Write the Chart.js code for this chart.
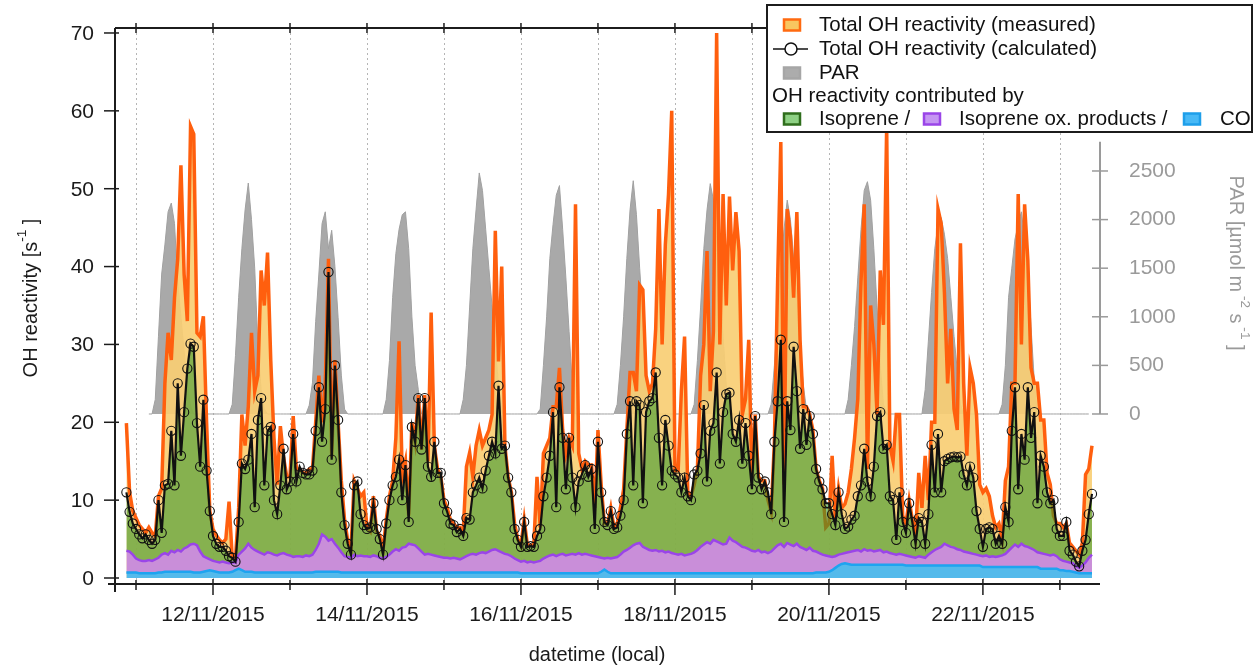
<!DOCTYPE html>
<html>
<head>
<meta charset="utf-8">
<title>OH reactivity</title>
<script src="https://cdn.jsdelivr.net/npm/chart.js@4.4.1/dist/chart.umd.min.js"></script>
<style>
  html, body { margin: 0; padding: 0; background: #ffffff; }
  #wrap { width: 1257px; height: 668px; position: relative; }
  canvas { display: block; }
</style>
</head>
<body>
<div id="wrap"><canvas id="chart" width="1257" height="668"></canvas></div>
<script>
// Hourly series, first value at 10/11/2015 21:00 (hours counted from 11/11/2015 00:00)
const firstHour = -3;

// Total OH reactivity, measured [s-1]
const measured = [
  19.9, 11.0, 8.6,
  7.7, 6.8, 6.3, 5.8, 6.5, 5.8, 5.4, 10.5, 11.5, 25.0, 31.5, 28.0, 36.0, 41.0, 53.0, 39.0, 33.0, 58.0, 57.0, 31.5, 31.0, 33.6, 20.0, 8.6,
  6.3, 5.5, 4.9, 4.5, 5.0, 9.8, 2.6, 2.5, 9.0, 21.0, 17.0, 22.0, 31.5, 24.0, 26.0, 39.5, 35.0, 41.8, 28.0, 18.0, 12.0, 19.5, 15.5, 13.0,
  13.0, 20.8, 14.0, 14.0, 13.5, 13.5, 14.0, 14.0, 20.0, 26.0, 20.0, 25.0, 41.0, 15.5, 28.0, 20.0, 12.5, 7.5, 4.8, 3.5, 12.5, 11.5, 10.5, 11.0,
  6.5, 6.0, 10.5, 6.0, 5.5, 3.5, 7.5, 10.5, 12.5, 18.0, 30.4, 13.0, 15.0, 8.0, 20.0, 17.5, 23.5, 16.5, 23.5, 15.0, 34.1, 17.0, 14.0, 13.0,
  10.0, 9.0, 7.5, 7.0, 6.5, 6.5, 6.0, 14.3, 16.1, 13.0, 17.0, 19.0, 17.0, 18.0, 19.0, 21.0, 44.6, 27.8, 40.0, 17.0, 13.0, 11.0, 7.0, 5.0,
  4.2, 7.5, 4.2, 4.2, 4.2, 13.0, 6.5, 16.0, 17.0, 18.0, 22.0, 22.0, 27.0, 19.0, 16.0, 18.0, 17.0, 48.0, 16.0, 14.0, 15.0, 14.5, 14.5, 9.0,
  19.0, 12.0, 7.0, 7.0, 9.0, 6.5, 7.0, 9.0, 11.4, 19.0, 26.4, 26.4, 24.0, 37.6, 37.0, 26.0, 24.0, 25.0, 32.0, 47.4, 30.0, 42.8, 49.3, 60.0,
  13.8, 13.8, 24.0, 31.0, 11.0, 10.5, 12.0, 14.0, 26.0, 30.0, 42.0, 24.0, 31.7, 70.0, 30.0, 49.3, 35.0, 49.0, 39.5, 47.0, 42.0, 21.0, 23.0, 30.6,
  13.0, 21.0, 13.0, 12.5, 12.5, 10.0, 8.5, 17.5, 38.0, 56.0, 12.0, 47.4, 44.0, 36.0, 47.0, 30.6, 22.0, 22.0, 21.0, 19.0, 14.0, 12.5, 11.5, 6.5,
  7.0, 15.7, 7.5, 11.5, 9.0, 9.5, 11.0, 14.0, 18.0, 23.0, 38.0, 48.0, 14.0, 35.0, 30.0, 21.0, 39.5, 32.5, 58.0, 17.0, 15.0, 21.0, 21.0, 8.0,
  7.0, 10.0, 7.5, 5.5, 13.5, 9.0, 15.7, 10.0, 20.0, 20.0, 47.4, 45.5, 36.7, 25.0, 32.0, 21.7, 19.0, 43.0, 25.0, 15.7, 27.0, 25.0, 21.0, 12.0,
  11.0, 11.5, 10.5, 8.0, 6.5, 7.0, 5.0, 12.5, 14.3, 25.0, 25.0, 49.3, 30.0, 48.0, 40.9, 27.0, 25.0, 25.0, 20.3, 20.3, 13.5, 12.0, 8.0, 7.0,
  7.0, 6.5, 7.0, 4.5, 4.0, 3.5, 3.0, 4.5, 13.3, 14.0, 17.0
];

// Total OH reactivity, calculated [s-1]
const calculated = [
  11.0, 8.5, 7.0,
  6.3, 5.6, 5.1, 5.6, 4.9, 4.4, 4.9, 10.0, 5.8, 11.9, 12.1, 18.9, 11.9, 25.0, 15.7, 21.3, 26.9, 30.1, 29.7, 19.9, 14.3, 22.9, 13.8, 8.6,
  5.4, 4.4, 4.0, 4.0, 3.5, 2.8, 2.6, 2.1, 7.2, 14.7, 14.0, 15.2, 18.5, 9.1, 20.3, 23.1, 11.9, 18.9, 19.4, 10.0, 8.2, 11.9, 16.6, 11.4,
  12.4, 18.5, 12.4, 14.3, 13.5, 13.3, 13.3, 13.8, 18.9, 24.5, 17.5, 21.7, 39.3, 15.2, 27.3, 20.3, 11.0, 6.8, 4.4, 3.0, 11.9, 12.4, 8.2, 6.8,
  6.3, 6.5, 9.6, 6.3, 5.0, 3.0, 7.0, 10.0, 11.9, 13.0, 15.2, 10.0, 14.5, 7.2, 19.4, 17.5, 23.1, 16.5, 23.1, 14.3, 13.0, 17.5, 13.5, 13.5,
  9.6, 8.5, 7.0, 6.8, 5.9, 6.3, 5.4, 7.7, 7.5, 11.0, 11.9, 12.9, 11.5, 13.8, 15.7, 17.5, 16.0, 24.7, 16.6, 17.0, 12.9, 11.0, 6.3, 4.9,
  4.0, 7.2, 4.0, 4.1, 4.0, 5.4, 6.3, 10.5, 12.9, 15.7, 21.3, 9.1, 24.5, 18.0, 11.4, 18.0, 12.9, 9.1, 12.4, 13.3, 14.5, 13.0, 14.0, 6.3,
  17.5, 11.0, 7.2, 6.8, 8.6, 6.3, 6.5, 8.0, 10.0, 18.5, 22.7, 11.9, 22.7, 22.2, 9.6, 21.3, 22.7, 23.1, 26.4, 18.0, 11.9, 20.3, 17.0, 13.8,
  13.3, 12.9, 11.0, 12.9, 10.5, 10.0, 13.3, 13.8, 16.0, 22.2, 12.4, 18.9, 19.9, 26.4, 14.7, 21.3, 23.6, 23.8, 18.5, 17.5, 20.3, 14.7, 19.9, 15.7,
  11.4, 20.8, 12.9, 11.4, 12.4, 11.0, 8.2, 17.5, 22.7, 30.6, 7.2, 22.7, 19.0, 29.7, 24.0, 16.6, 21.7, 17.1, 20.8, 18.5, 14.0, 12.4, 11.4, 9.6,
  9.6, 8.2, 6.8, 11.0, 8.2, 6.3, 6.6, 7.5, 8.0, 10.5, 11.9, 16.6, 12.4, 10.5, 14.3, 20.8, 21.3, 16.6, 17.1, 10.5, 10.0, 4.9, 11.0, 7.2,
  5.8, 9.6, 7.2, 4.4, 7.7, 7.2, 4.4, 8.2, 17.1, 11.0, 18.5, 11.0, 15.0, 15.3, 15.5, 15.6, 15.5, 15.6, 13.3, 11.9, 14.3, 12.9, 8.6, 6.3,
  4.0, 6.3, 6.5, 6.3, 4.4, 5.4, 4.4, 9.1, 7.2, 18.9, 24.5, 11.4, 18.5, 15.2, 24.5, 18.0, 21.3, 9.6, 15.7, 14.3, 11.0, 9.6, 10.0, 6.3,
  5.4, 5.4, 7.2, 3.5, 3.0, 2.1, 1.5, 3.5, 4.9, 8.2, 10.8
];

// Contribution of isoprene [s-1]
const isoprene = [
  7.5, 5.1, 4.0,
  3.8, 3.3, 2.9, 3.4, 2.6, 2.2, 2.5, 7.4, 2.8, 8.7, 9.1, 15.4, 8.6, 21.4, 12.3, 17.5, 22.9, 25.8, 25.3, 15.7, 10.9, 20.1, 11.2, 6.2,
  3.2, 2.3, 2.0, 1.9, 1.5, 0.9, 0.6, 0.1, 4.2, 11.3, 10.2, 10.8, 14.6, 5.5, 16.9, 19.9, 8.9, 15.6, 16.2, 7.0, 5.3, 8.8, 13.4, 8.4,
  9.5, 15.8, 9.6, 11.5, 10.8, 10.4, 10.5, 10.8, 15.3, 20.1, 11.9, 16.4, 34.5, 10.2, 22.9, 16.4, 7.7, 4.0, 1.7, 0.4, 8.9, 9.6, 5.3, 4.0,
  3.5, 3.8, 6.7, 3.5, 2.4, 0.5, 4.3, 7.0, 8.5, 9.3, 11.7, 6.1, 10.5, 2.8, 15.1, 13.3, 19.3, 13.1, 20.1, 11.2, 10.0, 14.6, 10.7, 10.8,
  7.0, 5.9, 4.5, 4.2, 3.4, 3.9, 2.8, 4.9, 4.5, 7.9, 8.9, 9.7, 8.2, 10.6, 12.3, 13.9, 12.3, 21.2, 13.3, 13.9, 9.9, 8.2, 3.8, 2.6,
  1.9, 5.0, 2.0, 2.0, 2.0, 3.3, 4.1, 8.0, 10.2, 12.8, 18.3, 6.3, 21.5, 14.9, 8.5, 15.0, 9.8, 6.1, 9.2, 10.3, 11.4, 10.0, 11.1, 3.5,
  14.8, 8.4, 4.7, 4.2, 6.1, 3.7, 3.8, 5.0, 6.6, 14.9, 18.8, 7.7, 18.3, 17.7, 5.6, 17.5, 19.1, 19.6, 22.8, 14.6, 8.4, 17.0, 13.6, 10.6,
  10.2, 9.9, 7.9, 10.0, 7.5, 6.9, 10.0, 10.2, 12.0, 17.9, 7.8, 14.5, 15.0, 21.7, 10.2, 17.0, 19.2, 18.6, 13.7, 12.9, 16.0, 10.7, 16.0, 12.0,
  7.9, 17.4, 9.3, 8.1, 9.0, 7.8, 4.8, 13.7, 18.5, 26.2, 3.2, 18.2, 14.7, 25.6, 19.6, 12.6, 17.9, 13.5, 16.9, 15.0, 10.6, 9.2, 8.4, 6.7,
  6.8, 5.5, 4.0, 8.0, 5.1, 3.1, 3.3, 4.1, 4.5, 6.9, 8.5, 12.9, 8.9, 6.9, 10.9, 17.3, 17.7, 13.3, 13.7, 7.3, 6.9, 1.9, 7.9, 4.2,
  2.9, 6.8, 4.5, 1.8, 4.9, 4.5, 1.8, 5.2, 13.8, 7.4, 14.7, 7.0, 10.6, 11.1, 11.5, 11.7, 11.8, 12.0, 9.9, 8.6, 11.1, 9.8, 5.6, 3.4,
  1.2, 3.4, 3.8, 3.5, 1.7, 2.6, 1.5, 6.0, 3.7, 15.0, 20.2, 7.4, 14.1, 11.1, 20.5, 14.2, 17.7, 6.3, 12.5, 11.2, 8.0, 6.7, 7.0, 3.5,
  3.0, 3.2, 5.1, 1.5, 1.1, 0.6, 0.2, 1.9, 2.9, 5.6, 7.8
];

// Contribution of isoprene oxidation products [s-1]
const oxProducts = [
  2.8, 2.7, 2.3,
  1.8, 1.7, 1.6, 1.6, 1.7, 1.6, 1.8, 1.9, 2.3, 2.4, 2.2, 2.7, 2.5, 2.8, 2.6, 3.0, 3.2, 3.5, 3.7, 3.5, 2.7, 2.0, 1.7, 1.4,
  1.3, 1.3, 1.3, 1.4, 1.3, 1.2, 1.2, 1.0, 1.8, 2.4, 3.0, 3.6, 3.1, 2.9, 2.7, 2.5, 2.3, 2.6, 2.5, 2.3, 2.2, 2.4, 2.5, 2.3,
  2.2, 2.0, 2.1, 2.1, 2.0, 2.2, 2.1, 2.3, 2.8, 3.6, 4.8, 4.5, 4.0, 4.2, 3.6, 3.1, 2.6, 2.1, 2.0, 1.9, 2.3, 2.1, 2.2, 2.1,
  2.1, 2.0, 2.2, 2.1, 1.9, 1.8, 2.0, 2.3, 2.7, 3.0, 2.8, 3.2, 3.3, 3.7, 3.6, 3.5, 3.1, 2.7, 2.3, 2.4, 2.3, 2.2, 2.1, 2.0,
  1.9, 1.9, 1.8, 1.9, 1.8, 1.7, 1.9, 2.1, 2.3, 2.4, 2.3, 2.5, 2.6, 2.5, 2.7, 2.9, 3.0, 2.8, 2.6, 2.4, 2.3, 2.1, 1.8, 1.6,
  1.5, 1.6, 1.4, 1.5, 1.4, 1.5, 1.6, 1.9, 2.1, 2.3, 2.4, 2.2, 2.4, 2.5, 2.3, 2.4, 2.5, 2.4, 2.6, 2.4, 2.5, 2.4, 2.3, 2.2,
  2.1, 1.8, 1.4, 1.8, 1.9, 2.0, 2.1, 2.4, 2.8, 3.0, 3.3, 3.6, 3.8, 3.9, 3.4, 3.2, 3.0, 2.9, 3.0, 2.8, 2.9, 2.7, 2.8, 2.6,
  2.5, 2.4, 2.5, 2.3, 2.4, 2.5, 2.7, 3.0, 3.4, 3.7, 4.0, 3.8, 4.3, 4.1, 3.9, 3.7, 3.8, 4.6, 4.2, 4.0, 3.7, 3.4, 3.3, 3.1,
  2.9, 2.8, 3.0, 2.7, 2.8, 2.6, 2.8, 3.2, 3.6, 3.8, 3.4, 3.9, 3.7, 3.5, 3.8, 3.4, 3.2, 3.0, 3.3, 2.9, 2.7, 2.5, 2.3, 2.2,
  2.0, 1.7, 1.5, 1.4, 1.3, 1.3, 1.5, 1.7, 1.8, 1.9, 1.7, 2.0, 1.8, 1.9, 1.7, 1.8, 1.9, 1.6, 1.7, 1.5, 1.4, 1.3, 1.4, 1.3,
  1.3, 1.2, 1.1, 1.0, 1.2, 1.1, 1.0, 1.4, 1.7, 2.0, 2.2, 2.4, 2.8, 2.6, 2.4, 2.3, 2.1, 2.0, 1.8, 1.7, 1.6, 1.5, 1.4, 1.3,
  1.4, 1.5, 1.3, 1.4, 1.3, 1.4, 1.5, 1.7, 2.1, 2.5, 2.9, 2.6, 3.0, 2.7, 2.6, 2.4, 2.2, 1.9, 2.0, 1.9, 1.8, 1.7, 1.8, 1.6,
  1.4, 1.2, 1.2, 1.1, 1.1, 0.8, 0.7, 1.0, 1.4, 2.0, 2.4
];

// Contribution of CO [s-1]
const carbonMonoxide = [
  0.7, 0.7, 0.7,
  0.7, 0.6, 0.6, 0.6, 0.6, 0.6, 0.6, 0.7, 0.7, 0.8, 0.8, 0.8, 0.8, 0.8, 0.8, 0.8, 0.8, 0.8, 0.7, 0.7, 0.7, 0.8, 0.9, 1.0,
  0.9, 0.8, 0.7, 0.7, 0.7, 0.7, 0.8, 1.0, 1.2, 1.0, 0.8, 0.8, 0.8, 0.7, 0.7, 0.7, 0.7, 0.7, 0.7, 0.7, 0.7, 0.7, 0.7, 0.7,
  0.7, 0.7, 0.7, 0.7, 0.7, 0.7, 0.7, 0.7, 0.8, 0.8, 0.8, 0.8, 0.8, 0.8, 0.8, 0.8, 0.7, 0.7, 0.7, 0.7, 0.7, 0.7, 0.7, 0.7,
  0.7, 0.7, 0.7, 0.7, 0.7, 0.7, 0.7, 0.7, 0.7, 0.7, 0.7, 0.7, 0.7, 0.7, 0.7, 0.7, 0.7, 0.7, 0.7, 0.7, 0.7, 0.7, 0.7, 0.7,
  0.7, 0.7, 0.7, 0.7, 0.7, 0.7, 0.7, 0.7, 0.7, 0.7, 0.7, 0.7, 0.7, 0.7, 0.7, 0.7, 0.7, 0.7, 0.7, 0.7, 0.7, 0.7, 0.7, 0.7,
  0.6, 0.6, 0.6, 0.6, 0.6, 0.6, 0.6, 0.6, 0.6, 0.6, 0.6, 0.6, 0.6, 0.6, 0.6, 0.6, 0.6, 0.6, 0.6, 0.6, 0.6, 0.6, 0.6, 0.6,
  0.6, 0.8, 1.1, 0.8, 0.6, 0.6, 0.6, 0.6, 0.6, 0.6, 0.6, 0.6, 0.6, 0.6, 0.6, 0.6, 0.6, 0.6, 0.6, 0.6, 0.6, 0.6, 0.6, 0.6,
  0.6, 0.6, 0.6, 0.6, 0.6, 0.6, 0.6, 0.6, 0.6, 0.6, 0.6, 0.6, 0.6, 0.6, 0.6, 0.6, 0.6, 0.6, 0.6, 0.6, 0.6, 0.6, 0.6, 0.6,
  0.6, 0.6, 0.6, 0.6, 0.6, 0.6, 0.6, 0.6, 0.6, 0.6, 0.6, 0.6, 0.6, 0.6, 0.6, 0.6, 0.6, 0.6, 0.6, 0.6, 0.7, 0.7, 0.7, 0.7,
  0.8, 1.0, 1.3, 1.6, 1.8, 1.9, 1.8, 1.7, 1.7, 1.7, 1.7, 1.7, 1.7, 1.7, 1.7, 1.7, 1.7, 1.7, 1.7, 1.7, 1.7, 1.7, 1.7, 1.7,
  1.6, 1.6, 1.6, 1.6, 1.6, 1.6, 1.6, 1.6, 1.6, 1.6, 1.6, 1.6, 1.6, 1.6, 1.6, 1.6, 1.6, 1.6, 1.6, 1.6, 1.6, 1.6, 1.6, 1.6,
  1.4, 1.4, 1.4, 1.4, 1.4, 1.4, 1.4, 1.4, 1.4, 1.4, 1.4, 1.4, 1.4, 1.4, 1.4, 1.4, 1.4, 1.4, 1.2, 1.2, 1.2, 1.2, 1.2, 1.2,
  1.0, 1.0, 0.9, 0.9, 0.8, 0.7, 0.6, 0.6, 0.6, 0.6, 0.6
];

// Photosynthetically active radiation [µmol m-2 s-1]
const par = [
  null, null, null,
  null, null, null, null, 0, 0, 150, 800, 1440, 1740, 2080, 2170, 1960, 1360, 1000, 650, 300, 80, 0, 0, 0, 0, 0, 0,
  0, 0, 0, 0, 0, 0, 100, 600, 1200, 1700, 2100, 2376, 2000, 1500, 700, 250, 50, 0, 0, 0, 0, 0, 0, 0,
  0, 0, 0, 0, 0, 0, 90, 320, 950, 1440, 1960, 2080, 1700, 1890, 1520, 990, 400, 50, 0, 0, 0, 0, 0, 0,
  0, 0, 0, 0, 0, 0, 150, 550, 1200, 1650, 1900, 2050, 2080, 1700, 1000, 500, 250, 0, 0, 0, 0, 0, 0, 0,
  0, 0, 0, 0, 0, 0, 150, 500, 1100, 1700, 2100, 2480, 2300, 1900, 1500, 1100, 700, 300, 50, 0, 0, 0, 0, 0,
  0, 0, 0, 0, 0, 0, 50, 500, 1000, 1600, 1950, 2250, 2350, 1900, 1400, 850, 300, 0, 0, 0, 0, 0, 0, 0,
  0, 0, 0, 0, 0, 0, 100, 500, 1000, 1600, 2100, 2400, 2050, 1500, 1000, 400, 50, 0, 0, 0, 0, 0, 0, 0,
  0, 0, 0, 0, 0, 0, 100, 550, 1100, 1700, 2100, 2370, 2200, 1800, 1300, 800, 300, 50, 0, 0, 0, 0, 0, 0,
  0, 0, 0, 0, 0, 0, 100, 500, 1000, 1500, 1900, 2200, 2000, 1600, 1200, 700, 300, 50, 0, 0, 0, 0, 0, 0,
  0, 0, 0, 0, 0, 0, 150, 500, 900, 1400, 1900, 2300, 2390, 2200, 1700, 1100, 500, 100, 0, 0, 0, 0, 0, 0,
  0, 0, 0, 0, 0, 0, 250, 750, 1250, 1700, 1950, 2020, 1850, 1600, 1200, 800, 450, 100, 0, 0, 0, 0, 0, 0,
  0, 0, 0, 0, 0, 0, 100, 500, 1200, 1500, 1800, 1950, 2080, 1800, 1500, 900, 350, 0, 0, 0, 0, 0, 0, 0,
  0, 0, 0, 0, 0, 0, 0, 0, 0, 0, null
];

// Axis ticks
const dayLabels = ['11/11/2015', '12/11/2015', '13/11/2015', '14/11/2015', '15/11/2015', '16/11/2015',
  '17/11/2015', '18/11/2015', '19/11/2015', '20/11/2015', '21/11/2015', '22/11/2015', '23/11/2015'];
const reactivityTicks = [0, 10, 20, 30, 40, 50, 60, 70];
const parTicks = [0, 500, 1000, 1500, 2000, 2500];

// ---------------------------------------------------------------------------
const hourOf = (i) => firstHour + i;
const points = (arr) => arr.map((v, i) => ({ x: hourOf(i), y: v }));

// stacked contribution boundaries: CO at the bottom, then ox. products, then isoprene
const coTop = carbonMonoxide.map((v, i) => ({ x: hourOf(i), y: v }));
const oxTop = carbonMonoxide.map((v, i) => ({ x: hourOf(i), y: v + oxProducts[i] }));
const isoTop = carbonMonoxide.map((v, i) => ({ x: hourOf(i), y: v + oxProducts[i] + isoprene[i] }));

const FONT = (s) => `${s}px "Liberation Sans", Arial, Helvetica, sans-serif`;

const COLORS = {
  measuredLine: '#ff5f0e',
  measuredFill: 'rgba(248,206,116,0.92)',
  isoFill: 'rgba(40,150,40,0.55)',
  oxLine: '#9a45e8',
  oxFill: 'rgba(190,128,238,0.82)',
  coLine: '#1ea4f0',
  coFill: 'rgba(70,185,245,0.92)',
  parFill: 'rgba(160,160,160,0.9)',
  parLine: '#a0a0a0',
  axis: '#1c1c1c',
  parAxis: '#9a9a9a'
};

// text with superscript parts: [text, isSuperscript]
function richWidth(ctx, parts, size) {
  let w = 0;
  for (const [t, sup] of parts) {
    ctx.font = FONT(sup ? size * 0.68 : size);
    w += ctx.measureText(t).width;
  }
  return w;
}
function drawRich(ctx, parts, x, y, size) {
  let cx = x;
  for (const [t, sup] of parts) {
    ctx.font = FONT(sup ? size * 0.68 : size);
    ctx.fillText(t, cx, sup ? y - size * 0.42 : y);
    cx += ctx.measureText(t).width;
  }
}

function swatch(ctx, cx, cy, border, fill) {
  ctx.fillStyle = fill;
  ctx.fillRect(cx - 8, cy - 5.5, 16, 11);
  ctx.strokeStyle = border;
  ctx.lineWidth = 2.5;
  ctx.strokeRect(cx - 8, cy - 5.5, 16, 11);
}

const framePlugin = {
  id: 'frame',
  beforeDatasetsDraw(chart) {
    const { ctx, chartArea: a, scales: { x } } = chart;
    ctx.save();
    ctx.strokeStyle = '#b5b5b5';
    ctx.lineWidth = 1;
    ctx.setLineDash([2, 3]);
    dayLabels.forEach((lab, i) => {
      const px = Math.round(x.getPixelForValue(i * 24)) + 0.5;
      ctx.beginPath(); ctx.moveTo(px, a.top); ctx.lineTo(px, a.bottom); ctx.stroke();
    });
    ctx.restore();
  },
  afterDatasetsDraw(chart) {
    const { ctx, chartArea: a, scales: { x, y, yPar } } = chart;
    ctx.save();
    const line = (x1, y1, x2, y2) => { ctx.beginPath(); ctx.moveTo(x1, y1); ctx.lineTo(x2, y2); ctx.stroke(); };

    // PAR axis on the right
    ctx.strokeStyle = COLORS.parAxis;
    ctx.lineWidth = 2;
    line(a.right, yPar.getPixelForValue(2800), a.right, yPar.getPixelForValue(0));
    ctx.lineWidth = 1.5;
    ctx.fillStyle = COLORS.parAxis;
    ctx.font = FONT(21);
    ctx.textAlign = 'left';
    ctx.textBaseline = 'middle';
    parTicks.forEach(v => {
      const py = yPar.getPixelForValue(v);
      line(a.right - 8, py, a.right + 8, py);
      ctx.fillText(String(v), a.right + 29, py);
    });

    // main frame
    ctx.strokeStyle = COLORS.axis;
    ctx.lineWidth = 2;
    line(a.left, a.top, a.left, a.bottom + 8);
    line(a.left - 7, a.bottom, a.right, a.bottom);
    line(a.left, a.top, a.right, a.top);

    // left ticks and labels
    ctx.lineWidth = 1.5;
    ctx.fillStyle = '#1a1a1a';
    ctx.font = FONT(21);
    ctx.textAlign = 'right';
    reactivityTicks.forEach(v => {
      const py = y.getPixelForValue(v);
      line(a.left - 11, py, a.left + 4, py);
      ctx.fillText(String(v), a.left - 21, py + 1);
    });

    // date ticks (bottom and top), labels every second day
    ctx.textAlign = 'center';
    dayLabels.forEach((lab, i) => {
      const px = x.getPixelForValue(i * 24);
      const major = i % 2 === 1;
      if (major) line(px, a.bottom - 5, px, a.bottom + 11);
      else line(px, a.bottom - 4, px, a.bottom + 6);
      line(px, a.top - 5, px, a.top + 5);
      if (major) ctx.fillText(lab, px, a.bottom + 31);
    });

    // axis titles
    ctx.fillStyle = '#1a1a1a';
    ctx.font = FONT(20);
    ctx.textAlign = 'center';
    ctx.fillText('datetime (local)', 597, 655);

    ctx.textAlign = 'left';
    const leftTitle = [['OH reactivity [s', false], ['-1', true], [' ]', false]];
    ctx.save();
    ctx.translate(31, 298);
    ctx.rotate(-Math.PI / 2);
    drawRich(ctx, leftTitle, -richWidth(ctx, leftTitle, 20) / 2, 0, 20);
    ctx.restore();

    const parTitle = [['PAR [µmol m', false], [' -2', true], [' s', false], [' -1', true], [' ]', false]];
    ctx.save();
    ctx.fillStyle = COLORS.parAxis;
    ctx.translate(1236, 263);
    ctx.rotate(Math.PI / 2);
    drawRich(ctx, parTitle, -richWidth(ctx, parTitle, 20) / 2, 0, 20);
    ctx.restore();

    // legend box
    const ds = chart.data.datasets;
    const lx = 767, ly = 5, lw = 485, lh = 127;
    ctx.fillStyle = '#ffffff';
    ctx.fillRect(lx, ly, lw, lh);
    ctx.strokeStyle = '#1c1c1c';
    ctx.lineWidth = 2;
    ctx.strokeRect(lx, ly, lw, lh);

    ctx.textBaseline = 'middle';
    ctx.textAlign = 'left';
    const rows = [25, 49, 73, 96, 119];

    swatch(ctx, 792, rows[0], '#ff6a10', '#f8c660');
    ctx.fillStyle = '#111'; ctx.font = FONT(20.5);
    ctx.fillText(ds[1].label, 819, rows[0]);

    ctx.strokeStyle = '#111'; ctx.lineWidth = 1.5;
    line(773, rows[1], 808, rows[1]);
    ctx.beginPath(); ctx.arc(791, rows[1], 6, 0, Math.PI * 2); ctx.fillStyle = '#fff'; ctx.fill(); ctx.stroke();
    ctx.fillStyle = '#111';
    ctx.fillText(ds[5].label, 819, rows[1]);

    swatch(ctx, 792, rows[2], '#a6a6a6', '#acacac');
    ctx.fillStyle = '#111';
    ctx.fillText(ds[0].label, 819, rows[2]);

    ctx.fillText('OH reactivity contributed by', 772, rows[3]);

    swatch(ctx, 792, rows[4], '#2f6e1c', '#8ed184');
    ctx.fillStyle = '#111';
    ctx.fillText(ds[4].label + ' /', 819, rows[4]);
    swatch(ctx, 932, rows[4], '#9a45e8', '#c596f2');
    ctx.fillStyle = '#111';
    ctx.fillText(ds[3].label + ' /', 959, rows[4]);
    swatch(ctx, 1192, rows[4], '#1e9fea', '#48b9f6');
    ctx.fillStyle = '#111';
    ctx.fillText(ds[2].label, 1220, rows[4]);

    ctx.restore();
  }
};

new Chart(document.getElementById('chart'), {
  type: 'line',
  data: {
    datasets: [
      {
        label: 'PAR',
        data: points(par),
        yAxisID: 'yPar',
        borderColor: COLORS.parLine,
        borderWidth: 1,
        backgroundColor: COLORS.parFill,
        fill: 'origin',
        spanGaps: false,
        pointRadius: 0,
        order: 6
      },
      {
        label: 'Total OH reactivity (measured)',
        data: points(measured),
        borderColor: COLORS.measuredLine,
        borderWidth: 3.5,
        backgroundColor: COLORS.measuredFill,
        fill: 'origin',
        pointRadius: 0,
        order: 5
      },
      {
        label: 'CO',
        data: coTop,
        borderColor: COLORS.coLine,
        borderWidth: 2.5,
        backgroundColor: COLORS.coFill,
        fill: 'origin',
        pointRadius: 0,
        order: 2
      },
      {
        label: 'Isoprene ox. products',
        data: oxTop,
        borderColor: COLORS.oxLine,
        borderWidth: 2.5,
        backgroundColor: COLORS.oxFill,
        fill: 2,
        pointRadius: 0,
        order: 3
      },
      {
        label: 'Isoprene',
        data: isoTop,
        borderWidth: 0,
        borderColor: 'rgba(0,0,0,0)',
        backgroundColor: COLORS.isoFill,
        fill: 3,
        pointRadius: 0,
        order: 4
      },
      {
        label: 'Total OH reactivity (calculated)',
        data: points(calculated),
        borderColor: '#111111',
        borderWidth: 2.2,
        fill: false,
        pointRadius: 4.6,
        pointBorderWidth: 1.1,
        pointBorderColor: '#111111',
        pointBackgroundColor: 'rgba(255,255,255,0)',
        order: 1
      }
    ]
  },
  options: {
    responsive: false,
    animation: false,
    devicePixelRatio: 1,
    layout: { padding: { left: 115, top: 28, right: 157, bottom: 84 } },
    elements: { line: { tension: 0 } },
    plugins: {
      legend: { display: false },
      tooltip: { enabled: false },
      filler: { propagate: false }
    },
    scales: {
      x: { type: 'linear', min: -6.55, max: 300.5, display: false },
      y: { type: 'linear', min: -0.77, max: 70.64, display: false },
      yPar: { type: 'linear', min: -1749, max: 3971, display: false }
    }
  },
  plugins: [framePlugin]
});
</script>
</body>
</html>
